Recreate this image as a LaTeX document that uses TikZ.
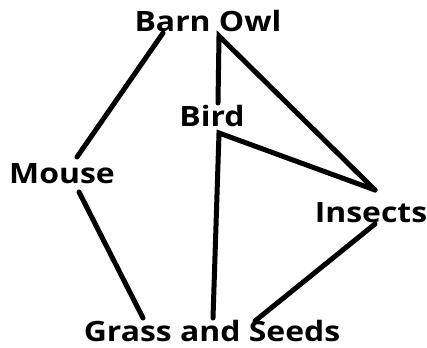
\documentclass[tikz,border=0pt]{standalone}
\usepackage{fontspec}
\setmainfont{Open Sans}
\begin{document}
\begin{tikzpicture}[x=1pt,y=-1pt,
  lbl/.style={font=\bfseries\fontsize{28}{30}\selectfont, inner sep=0pt, anchor=base, xscale=1.14},
  link/.style={line width=5pt, line cap=round, line join=miter}]
\useasboundingbox (0,0) rectangle (427,347);
\node[lbl] (owl) at (208,32) {Barn Owl};
\node[lbl] (bird) at (212,127) {Bird};
\node[lbl] (mouse) at (62,183) {Mouse};
\node[lbl] (insects) at (371,222) {Insects};
\node[lbl] (grass) at (212,341) {Grass and Seeds};
% connector ends
\coordinate (o1) at (163,33);
\coordinate (o2) at (219,36);
\coordinate (m1) at (77,157);
\coordinate (m2) at (79,192);
\coordinate (b1) at (218,103);
\coordinate (b2) at (219,133);
\coordinate (i1) at (375,190);
\coordinate (i2) at (375,224);
\coordinate (g1) at (143,318);
\coordinate (g2) at (213,318);
\coordinate (g3) at (255,321);
\draw[link] (o1) -- (m1);
\draw[link] (b1) -- (o2) -- (i1);
\draw[link] (i1) -- (b2) -- (g2);
\draw[link] (m2) -- (g1);
\draw[link] (i2) -- (g3);
\end{tikzpicture}
\end{document}
